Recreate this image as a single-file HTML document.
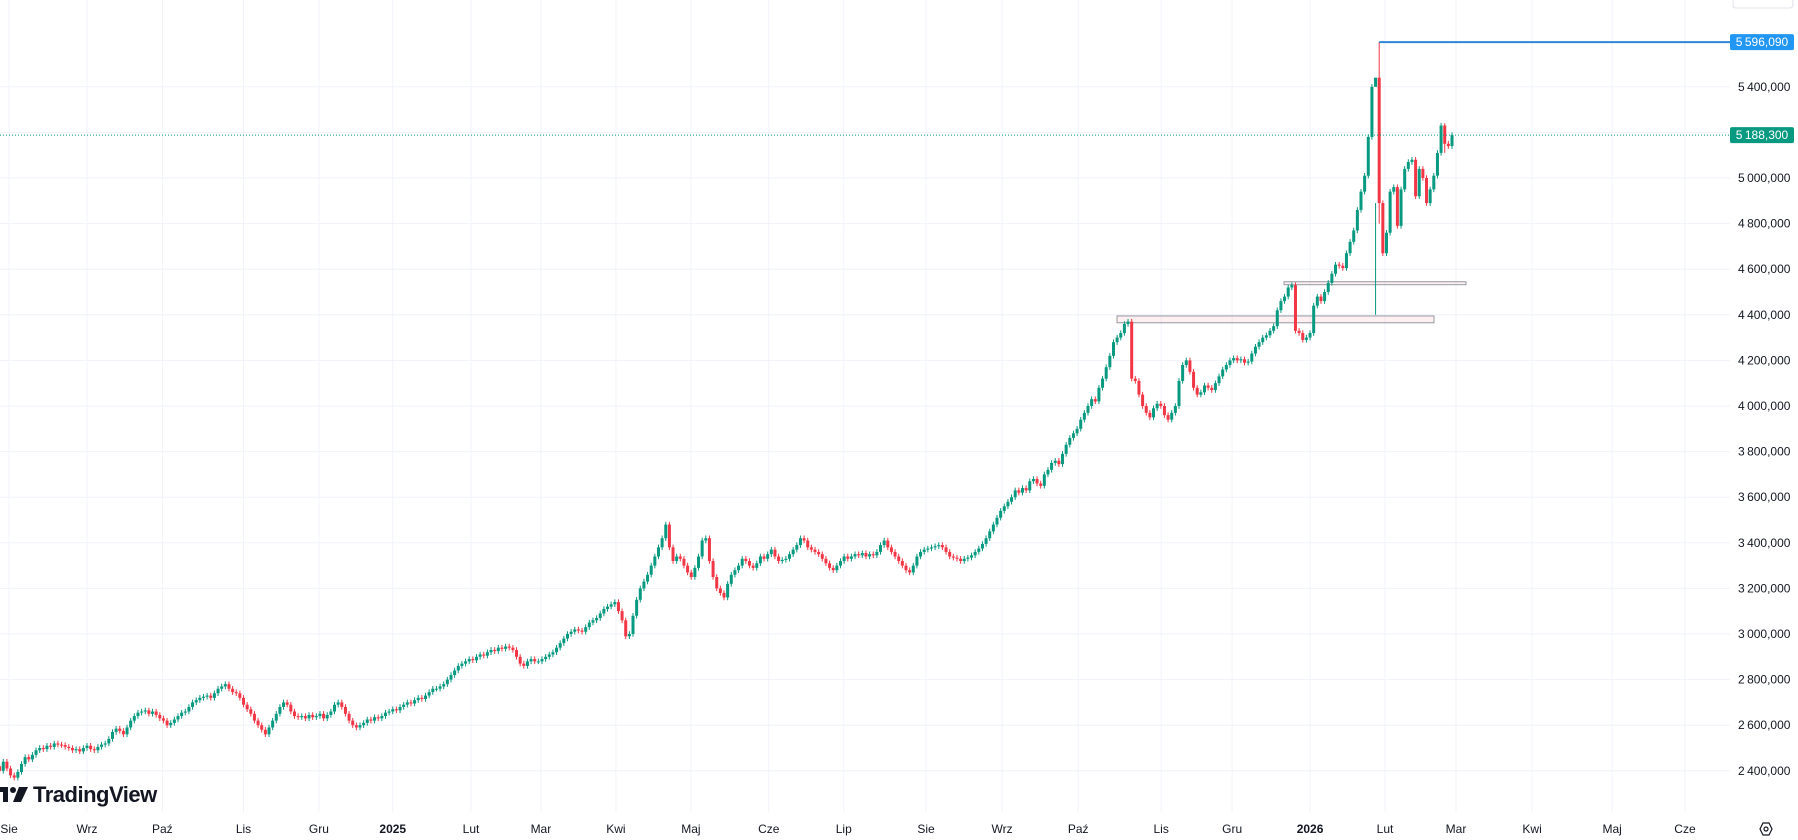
<!DOCTYPE html>
<html><head><meta charset="utf-8">
<style>
html,body{margin:0;padding:0;background:#fff;}
body{width:1798px;height:840px;overflow:hidden;position:relative;font-family:"Liberation Sans",sans-serif;}
svg{position:absolute;left:0;top:0;}
</style></head>
<body>
<svg id="chart" width="1798" height="840" xmlns="http://www.w3.org/2000/svg">
  <g id="grid"></g>
  <g id="plot"></g>
  <g id="yaxis"></g>
  <g id="xaxis"></g>
  <rect x="1733" y="-6" width="60" height="14" rx="3" fill="#fff" stroke="#e0e3eb"/>
  <g>
    <rect x="0" y="787" width="6" height="5" fill="#131722"/>
    <rect x="3" y="787" width="5" height="15" fill="#131722"/>
    <circle cx="13" cy="790" r="3" fill="#131722"/>
    <polygon points="19,787 28,787 21,802 13,802" fill="#131722"/>
    <text x="33" y="802" font-size="22" font-weight="bold" fill="#131722" letter-spacing="-0.5">TradingView</text>
  </g>
  <g>
    <polygon points="1760,829 1763,823 1769,823 1772,829 1769,835 1763,835" fill="none" stroke="#131722" stroke-width="1.2"/>
    <circle cx="1766" cy="829" r="2" fill="none" stroke="#131722" stroke-width="1.2"/>
  </g>
</svg>
<script>
// price axis ticks (in thousands)
const yTicks = [2400,2600,2800,3000,3200,3400,3600,3800,4000,4200,4400,4600,4800,5000,5200,5400];
const monthLabels = ["Sie","Wrz","Paź","Lis","Gru","2025","Lut","Mar","Kwi","Maj","Cze","Lip","Sie","Wrz","Paź","Lis","Gru","2026","Lut","Mar","Kwi","Maj","Cze"];
// month starts measured in bars before the last bar (negative = future)
const monthBarsFromEnd = [396.4,375,354.3,332,311.3,291,269.5,250.3,229.7,209.1,187.7,167.1,144.5,123.6,102.7,79.9,60.4,39,18.4,-1.1,-22,-44,-64];
// daily closes in thousands
const closes = [2420,2400,2440,2410,2380,2370,2395,2430,2460,2450,2470,2490,2500,2495,2510,2505,2520,2515,2513,
2505,2500,2490,2495,2485,2500,2510,2495,2490,2505,2515,2520,
2540,2570,2585,2575,2560,2590,2620,2640,2655,2660,
2665,2650,2660,2645,2630,2620,2600,2610,2625,2640,2655,2660,2680,2700,2710,2720,2725,
2730,2720,2740,2760,2770,2780,2760,2745,2740,
2720,2690,2670,2650,2620,2600,2580,2560,2590,2620,2650,2680,2700,2690,2660,2640,2635,
2640,2630,2645,2635,2640,2650,2630,2645,2660,2690,2700,2680,2650,2620,2600,2590,
2600,2610,2625,2620,2635,2630,2640,2655,2660,2670,2665,2680,2690,2700,2695,2710,2720,2715,2730,2745,2760,
2760,2770,2780,2800,2820,2840,2860,2870,2880,2890,2885,2900,2910,2905,2920,2930,2925,2940,2935,2945,2940,2930,2900,2870,2860,2880,2890,2880,
2880,2890,2900,2910,2920,2940,2960,2980,3000,3010,3020,3015,3010,3030,3050,3060,3070,3090,3110,3120,
3130,3140,3100,3060,2990,3000,3080,3150,3200,3230,3260,3300,3340,3380,
3420,3480,3380,3320,3340,3330,3300,3270,3250,3290,3340,3410,3420,3320,3250,
3200,3180,3160,3220,3260,3280,3300,3330,3320,3300,3290,3310,3340,3330,3350,3370,3340,3320,3325,
3330,3350,3370,3390,3420,3410,3380,3370,3360,3350,3330,3310,3290,3280,3300,3320,3340,3330,3340,3350,3345,3355,
3340,3350,3345,3360,3390,3410,3380,3360,3340,3320,3300,3280,3270,3300,3340,3360,3370,3375,3380,3385,3390,
3380,3360,3340,3335,3330,3320,3330,3335,3345,3360,3375,3395,3420,3450,3480,3510,3540,3560,
3580,3600,3630,3620,3640,3630,3670,3680,3660,3650,3700,3720,3750,3760,3745,
3790,3830,3860,3880,3900,3940,3970,4000,4030,4020,4080,4120,4170,4220,4280,4300,4320,4360,
4370,4120,4110,4050,4000,3970,3950,3990,4010,4000,3960,3940,3970,4000,4110,4180,4200,
4150,4080,4050,4060,4090,4080,4070,4100,4130,4160,4180,4200,4210,4200,4205,4190,4195,4230,4260,4280,
4300,4310,4330,4350,4420,4460,4480,4520,4530,4330,
4320,4290,4300,4320,4440,4480,4460,4500,4540,4580,4620,4615,4605,
4670,4720,4770,4860,4940,5010,5180,5400,5440,4890,4670,
4760,4940,4960,4790,4950,5040,5070,5080,4920,5040,5000,4890,4950,5010,5110,5230,5150,5140,5188];
// explicit extreme wicks (bar offset from end -> value in thousands)
const spikeBarsFromEnd = [20,21,2];
const spikeHighs = [5596,4890,5240];
const spikeLows = [4800,4400,5110];
const lastPrice = 5188.3;
const athPrice = 5596.09;
const zoneTop1 = 4395, zoneBottom1 = 4365;
const zoneTop2 = 4545, zoneBottom2 = 4532;

const NS="http://www.w3.org/2000/svg";
function el(tag, attrs, parent){const e=document.createElementNS(NS,tag);for(const k in attrs)e.setAttribute(k,attrs[k]);parent.appendChild(e);return e;}
const N = closes.length;
const SP = 3.64, LASTX = 1452;
function xOf(i){return LASTX-(N-1-i)*SP;}
function xFromEnd(b){return LASTX-b*SP;}
function yOf(v){return 178+(5000-v)/200*45.6;}
function fmt(v){const s=Math.round(v*1000).toString();const a=s.slice(0,s.length-6),b=s.slice(-6,-3),c=s.slice(-3);return a+"\u2009"+b+","+c;}

const grid=document.getElementById('grid'),plot=document.getElementById('plot'),yax=document.getElementById('yaxis'),xax=document.getElementById('xaxis');
yTicks.forEach(t=>{
  const y=yOf(t);
  const l=el('line',{x1:0,x2:1730,y1:y,y2:y,stroke:'#f0f3fa','stroke-width':1},grid);
  
  
  const tx=el('text',{x:1738,y:y+4,'font-size':12,fill:'#131722'},yax);
  tx.textContent=fmt(t);
  
  
});
monthLabels.forEach((m,k)=>{
  const x=xFromEnd(monthBarsFromEnd[k]);
  if(x<-5||x>1720)return;
  const l=el('line',{x1:x,x2:x,y1:0,y2:812,stroke:'#f0f3fa','stroke-width':1},grid);
  
  
  const bold=/^\d+$/.test(m);
  const tx=el('text',{x:x,y:833,'font-size':12,fill:'#131722','text-anchor':'middle','font-weight':bold?'bold':'normal'},xax);
  tx.textContent=m;
  
  
});
// zones
[[zoneTop1,zoneBottom1,1117,1434],[zoneTop2,zoneBottom2,1284,1466]].forEach(z=>{
  const r=el('rect',{x:z[2],y:yOf(z[0]),width:z[3]-z[2],height:yOf(z[1])-yOf(z[0]),fill:'rgba(242,54,69,0.08)',stroke:'#9598a1','stroke-width':1},plot);
  
  
});
// candles
for(let i=0;i<N;i++){
  const c=closes[i],o=i>0?closes[i-1]:c-10;
  let hi=Math.max(o,c)+12,lo=Math.min(o,c)-12;
  const s=spikeBarsFromEnd.indexOf(N-1-i);
  if(s>=0){hi=spikeHighs[s];lo=spikeLows[s];}
  const up=c>=o,col=up?'#089981':'#f23645';
  const x=xOf(i);
  const g=el('g',{},plot);
  
  
  el('line',{x1:x,x2:x,y1:yOf(hi),y2:yOf(lo),stroke:col,'stroke-width':1},g);
  const yt=yOf(Math.max(o,c)),yb=yOf(Math.min(o,c));
  el('rect',{x:x-1.5,y:yt,width:3,height:Math.max(1,yb-yt),fill:col},g);
}
// ATH line
const ay=yOf(athPrice);
const al=el('line',{x1:xOf(N-21),x2:1730,y1:ay,y2:ay,stroke:'#2f86d6','stroke-width':2},plot);


const ab=el('rect',{x:1730,y:ay-8,width:64,height:16,rx:2,fill:'#2196f3'},yax);


const at=el('text',{x:1762,y:ay+4,'font-size':12,fill:'#fff','text-anchor':'middle'},yax);
at.textContent=fmt(athPrice);
// last price line
const ly=yOf(lastPrice);
const ll=el('line',{x1:0,x2:1730,y1:ly,y2:ly,stroke:'#089981','stroke-width':1,'stroke-dasharray':'1,2'},plot);


const lb=el('rect',{x:1730,y:ly-8,width:64,height:16,rx:2,fill:'#089981'},yax);


const lt=el('text',{x:1762,y:ly+4,'font-size':12,fill:'#fff','text-anchor':'middle'},yax);
lt.textContent=fmt(lastPrice);
</script>
</body></html>
